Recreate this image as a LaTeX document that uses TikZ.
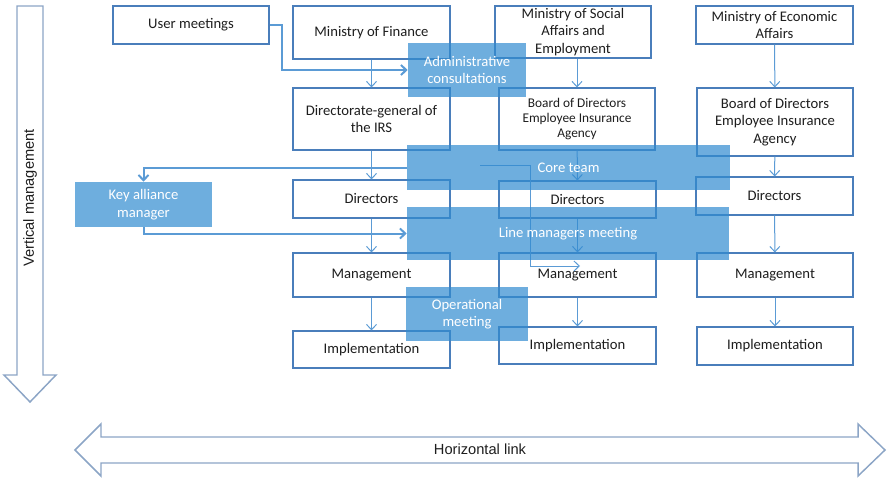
\documentclass[tikz,border=0pt]{standalone}
\usepackage{fontspec}
\setmainfont{Carlito}
\newfontfamily\arialf{Liberation Sans}
\usetikzlibrary{arrows.meta}
\definecolor{boxc}{RGB}{74,126,187}
\definecolor{linec}{RGB}{91,155,213}
\definecolor{bluef}{RGB}{49,139,208}
\definecolor{txtc}{RGB}{30,30,30}
\definecolor{bigc}{RGB}{140,165,198}
\newcommand\mkbox[7]{\node[#1, minimum width={(#4-#2)*0.75pt}, minimum height={(#5-#3)*0.75pt}] (#6) at ({(#2+#4)/2},{(#3+#5)/2}) {#7};}
\begin{document}
\begin{tikzpicture}[x=0.75pt,y=-0.75pt,
  wbox/.style={draw=boxc, line width=0.8pt, fill=white, text=txtc, align=center, inner sep=0pt, font=\fontsize{11}{13}\selectfont},
  bbox/.style={fill=bluef, fill opacity=0.7, text opacity=1, text=white, align=center, inner sep=0pt, font=\fontsize{11}{13}\selectfont},
  conn/.style={draw=linec, line width=0.75pt, -{Straight Barb[length=4pt,width=7.5pt]}},
  tconn/.style={conn, line width=1.5pt},
  bigarrow/.style={draw=bigc, line width=1.1pt, fill=white, line join=miter},
  biglabel/.style={text=txtc, inner sep=0pt, font=\arialf\fontsize{11}{13}\selectfont}]
\useasboundingbox (0,0) rectangle (887,478);
% big arrows
\draw[bigarrow] (17,6) -- (43,6) -- (43,375) -- (56,375) -- (30,402) -- (4,375) -- (17,375) -- cycle;
\node[biglabel, rotate=90] (vl) at (30,198) {Vertical management};
\draw[bigarrow] (75,450) -- (101,424) -- (101,437) -- (858,437) -- (858,424) -- (885,450) -- (858,476) -- (858,463) -- (101,463) -- (101,476) -- cycle;
\node[biglabel] (hl) at (480,449) {Horizontal link};
% white boxes
\mkbox{wbox}{113}{6}{269}{44}{um}{User meetings}
\mkbox{wbox}{293}{6}{450}{59}{mf}{Ministry of Finance}
\mkbox{wbox}{495}{6}{651}{58}{ms}{Ministry of Social\\Affairs and\\Employment}
\mkbox{wbox}{696}{6}{853}{44}{me}{Ministry of Economic\\Affairs}
\mkbox{wbox}{293}{88}{450}{150}{dg}{Directorate-general of\\the IRS}
\mkbox{wbox, font=\fontsize{10}{11.3}\selectfont}{499}{88}{655}{150}{bm}{Board of Directors\\Employee Insurance\\Agency}
\mkbox{wbox}{697}{88}{853}{156}{br}{Board of Directors\\Employee Insurance\\Agency}
\mkbox{wbox}{293}{180}{450}{218}{da}{Directors}
\mkbox{wbox}{499}{181}{656}{218}{db}{Directors}
\mkbox{wbox}{696}{177}{853}{215}{dc}{Directors}
\mkbox{wbox}{293}{253}{450}{297}{ma}{Management}
\mkbox{wbox}{499}{253}{656}{297}{mb}{Management}
\mkbox{wbox}{697}{253}{853}{297}{mc}{Management}
\mkbox{wbox}{293}{331}{450}{368}{ia}{Implementation}
\mkbox{wbox}{499}{327}{656}{364}{ib}{Implementation}
\mkbox{wbox}{697}{327}{853}{365}{ic}{Implementation}
% thin connectors
\draw[conn] (mf) -- (dg);
\draw[conn] (dg) -- (da);
\draw[conn] (da) -- (ma);
\draw[conn] (ma) -- (ia);
\draw[conn] (bm.north |- ms.south) -- (bm.north);
\draw[conn] (bm) -- (db);
\draw[conn] (db) -- (mb);
\draw[conn] (mb) -- (ib);
\draw[conn] (me) -- (br);
\draw[conn] (br) -- (dc);
\draw[conn] (dc) -- (mc);
\draw[conn] (mc) -- (ic);
\coordinate (ct1) at (480,165);
\coordinate (ct2) at (580,266);
\draw[conn] (ct1) -- (530,165) -- (530,266) -- (ct2);
% blue boxes
\mkbox{bbox}{408}{43}{526}{97}{adm}{Administrative\\consultations}
\mkbox{bbox}{407}{145}{730}{190}{core}{Core team}
\mkbox{bbox}{407}{207}{729}{260}{lm}{Line managers meeting}
\mkbox{bbox}{406}{287}{528}{341}{op}{Operational\\meeting}
\mkbox{bbox}{75}{182}{212}{227}{key}{Key alliance\\manager}
% thick connectors
\draw[tconn] (um.east) -- ++(12,0) |- (adm.west);
\draw[tconn] (core.west) -| (key.north);
\draw[tconn] (key.south) |- (lm.west);
\end{tikzpicture}
\end{document}
